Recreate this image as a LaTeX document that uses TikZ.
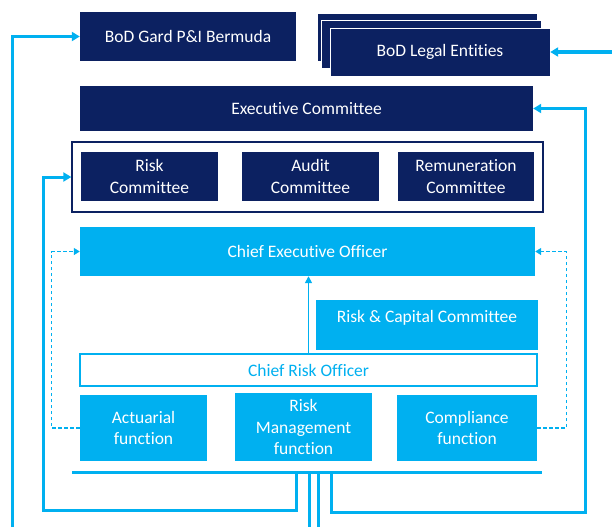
\documentclass[tikz,border=0pt]{standalone}
\usepackage{fontspec}
\setmainfont{Carlito}[Ligatures={NoCommon}]
\usepackage{xcolor}
\usepackage{tikz}
\usetikzlibrary{arrows.meta, positioning}
\definecolor{navy}{HTML}{0C2161}
\definecolor{lblue}{HTML}{00B0F0}

\begin{document}
\begin{tikzpicture}[
    x=1pt, y=-1pt,
    every node/.style={font=\fontsize{17.5}{21.5}\selectfont},
    box/.style={rectangle, align=center, inner sep=0pt},
    darkbox/.style={box, fill=navy, text=white},
    lightbox/.style={box, fill=lblue, text=white},
    flow/.style={draw=lblue, line width=3pt, -{Triangle[length=8pt,width=9pt]}},
    dflow/.style={draw=lblue, line width=1.3pt, dash pattern=on 3.5pt off 2.5pt, -{Triangle[length=6pt,width=7pt]}},
]
\useasboundingbox (0,0) rectangle (612,527);

% Boards at top
\node[darkbox, minimum width=216pt, minimum height=49pt] (gard) at (188,36.5) {BoD Gard P\&I Bermuda};
\node[darkbox, draw=white, thin, minimum width=220pt, minimum height=48pt] (legalA) at (427,37) {};
\node[darkbox, draw=white, thin, minimum width=220pt, minimum height=48pt] (legalB) at (431,44) {};
\node[darkbox, draw=white, thin, minimum width=220pt, minimum height=48pt] (legal) at (440,52) {BoD Legal Entities};

% Executive committee
\node[darkbox, minimum width=453pt, minimum height=45pt] (exec) at (306.5,108.5) {Executive Committee};

% Board committees in a frame
\node[box, draw=navy, line width=1.3pt, minimum width=471pt, minimum height=70pt] (frame) at (307.5,177) {};
\node[darkbox, minimum width=137pt, minimum height=49pt] (riskc) at (149.5,176.5) {Risk\\Committee};
\node[darkbox, minimum width=137pt, minimum height=49pt] (audit) at (310.5,176.5) {Audit\\Committee};
\node[darkbox, minimum width=136pt, minimum height=49pt] (remun) at (466,176.5) {Remuneration\\Committee};

% Management
\node[lightbox, minimum width=455pt, minimum height=49pt] (ceo) at (307.5,251.5) {Chief Executive Officer};
\node[lightbox, minimum width=222pt, minimum height=50pt, text height=12pt, text depth=17pt] (rcc) at (427,325) {Risk \& Capital Committee};
\node[box, draw=lblue, line width=1.5pt, fill=white, text=lblue, minimum width=457pt, minimum height=32pt] (cro) at (308.5,370) {Chief Risk Officer};

% Key functions
\node[lightbox, minimum width=127pt, minimum height=66pt] (act) at (143.5,428) {Actuarial\\function};
\node[lightbox, minimum width=137pt, minimum height=68pt] (rmf) at (303.5,427) {Risk\\Management\\function};
\node[lightbox, minimum width=140pt, minimum height=66pt] (comp) at (467,428) {Compliance\\function};

% Reporting bus below the functions
\coordinate (busL) at (72,472);
\coordinate (busR) at (542,472);
\draw[lblue, line width=3pt] (busL) -- (busR);
\coordinate (tapA) at (296,472);
\coordinate (tapB) at (331,472);
\coordinate (tapC) at (309,472);
\coordinate (tapD) at (318,472);
\coordinate (outC) at (309,527);
\coordinate (outD) at (318,527);
\coordinate (inGard) at (12,527);
\coordinate (inLegal) at (612,52);

% Reporting lines
\draw[flow] (inGard) |- (gard.west);
\draw[flow] (inLegal) -- (legal.east);
\draw[flow] (tapA) -- ++(0,38) -| ([xshift=-28pt]frame.west) -- (frame.west);
\draw[flow] (tapB) -- ++(0,40) -| ([xshift=52pt]exec.east) -- (exec.east);
\draw[lblue, line width=3pt] (tapC) -- (outC);
\draw[lblue, line width=3pt] (tapD) -- (outD);

% Dashed lines to the CEO
\draw[dflow] (act.west) -- ++(-28,0) |- (ceo.west);
\draw[dflow] (comp.east) -- ++(29,0) |- (ceo.east);
\draw[draw=lblue, line width=1.5pt, -{Triangle[length=7pt,width=7pt]}] (cro.north) -- (cro.north |- ceo.south);

\end{tikzpicture}
\end{document}
